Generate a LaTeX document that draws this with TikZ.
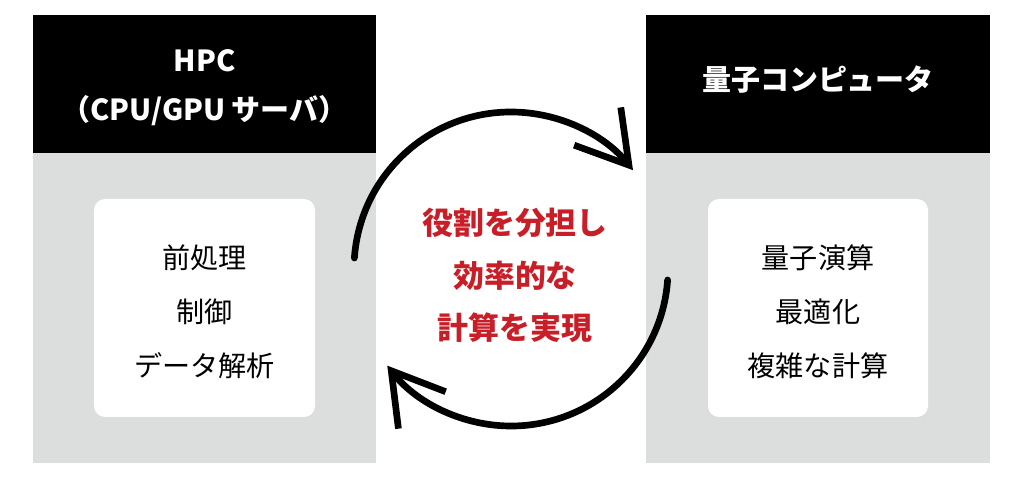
\documentclass[tikz,border=0pt]{standalone}
\usepackage{fontspec}
\setmainfont{Noto Sans CJK JP}
\usepackage{tikz}
\tikzset{>=latex}
\usetikzlibrary{arrows.meta,positioning}
\definecolor{panelgray}{RGB}{220,221,221}
\definecolor{accentred}{RGB}{200,30,40}
\tikzset{
  head/.style={text=white,font=\bfseries\fontsize{16.5}{28}\selectfont,align=center},
  item/.style={font=\fontsize{16}{30.7}\selectfont,align=center},
  role/.style={text=accentred,font=\bfseries\fontsize{17.6}{30}\selectfont,align=center},
  cycle arrow/.style={line width=3.8pt,line cap=round,-{Straight Barb[length=1cm,width=1.2cm]}},
}

\begin{document}
\begin{tikzpicture}
                \useasboundingbox (0,0) rectangle (20.48,9.58);
                % HPC side
                \fill[panelgray] (0.66,0.32) rectangle (7.52,6.52);
                \fill[black] (0.66,6.52) rectangle (7.52,9.28);
                \fill[white,rounded corners=0.22cm] (1.88,1.24) rectangle (6.30,5.60);
                \node[head] (hpc) at (4.09,7.83) {HPC\\（CPU/GPU サーバ）};
                \node[item] (hpcjobs) at (4.09,3.35) {前処理\\制御\\データ解析};

                % quantum side
                \fill[panelgray] (12.92,0.32) rectangle (19.80,6.52);
                \fill[black] (12.92,6.52) rectangle (19.80,9.28);
                \fill[white,rounded corners=0.22cm] (14.16,1.24) rectangle (18.56,5.60);
                \node[head] (qc) at (16.36,7.98) {量子コンピュータ};
                \node[item] (qcjobs) at (16.36,3.35) {量子演算\\最適化\\複雑な計算};

                % cycle in the middle
                \node[role] (share) at (10.3,4.07) {役割を分担し\\効率的な\\計算を実現};
                \draw[cycle arrow] (10.22,4.20) ++(176:3.14) arc (176:39:3.14);
                \draw[cycle arrow] (10.22,4.20) ++(-4:3.14) arc (-4:-142:3.14);
\end{tikzpicture}
\end{document}
